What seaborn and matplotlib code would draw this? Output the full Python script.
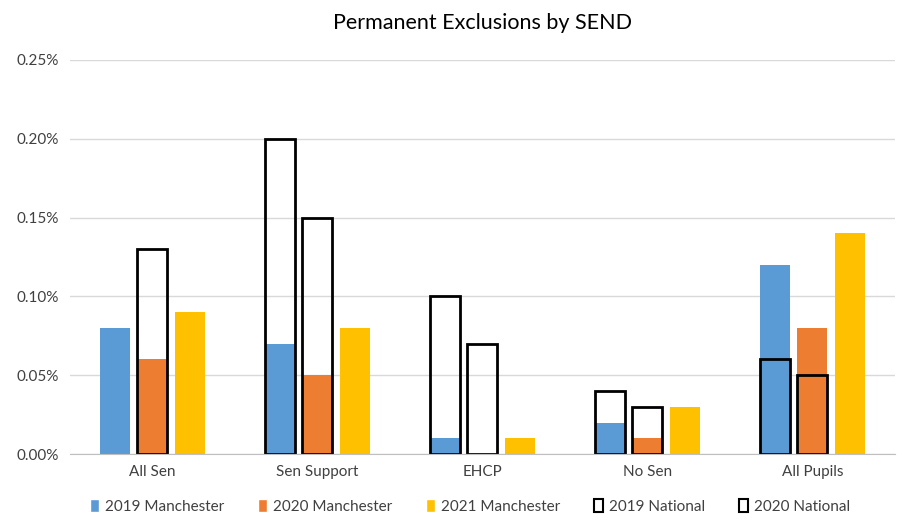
import pandas as pd
import numpy as np
import matplotlib.pyplot as plt
import seaborn as sns
from matplotlib.patches import Patch
from matplotlib.ticker import FuncFormatter

# Chart values (percent of pupils)
categories = ["All Sen", "Sen Support", "EHCP", "No Sen", "All Pupils"]
manc_2019 = [0.08, 0.07, 0.01, 0.02, 0.12]
manc_2020 = [0.06, 0.05, 0.00, 0.01, 0.08]
manc_2021 = [0.09, 0.08, 0.01, 0.03, 0.14]
nat_2019 = [np.nan, 0.20, 0.10, 0.04, 0.06]
nat_2020 = [0.13, 0.15, 0.07, 0.03, 0.05]

years = ["2019", "2020", "2021"]
colors = ["#5b9bd5", "#ed7d31", "#ffc000"]

manc = pd.DataFrame({
    "category": categories * 3,
    "year": np.repeat(years, len(categories)),
    "value": manc_2019 + manc_2020 + manc_2021,
})
nat = pd.DataFrame({
    "category": categories * 3,
    "year": np.repeat(years, len(categories)),
    "value": nat_2019 + nat_2020 + [np.nan] * len(categories),
})

sns.set_style("white")
plt.rcParams["font.family"] = ["Lato", "DejaVu Sans"]

fig = plt.figure(figsize=(9.04, 5.25), dpi=100)
ax = fig.add_axes([0.077, 0.135, 0.913, 0.751])

sns.barplot(data=manc, x="category", y="value", hue="year", hue_order=years,
            palette=colors, width=0.68, gap=0.2, saturation=1, ax=ax,
            legend=False, errorbar=None, linewidth=0)
sns.barplot(data=nat, x="category", y="value", hue="year", hue_order=years,
            palette=["black"] * 3, width=0.68, gap=0.2, fill=False,
            linewidth=2, ax=ax, legend=False, errorbar=None)

ax.set_ylim(0, 0.25)
ax.set_xlim(-0.5, 4.5)
ax.set_yticks([0, 0.05, 0.10, 0.15, 0.20, 0.25])
ax.yaxis.set_major_formatter(FuncFormatter(lambda v, p: f"{v:.2f}%"))
ax.grid(axis="y", color="#d9d9d9", linewidth=1)
ax.set_axisbelow(True)
for s in ["top", "right", "left"]:
    ax.spines[s].set_visible(False)
ax.spines["bottom"].set_color("#bfbfbf")
ax.tick_params(axis="both", length=0, labelsize=11, colors="#404040", pad=8)
ax.set_xlabel("")
ax.set_ylabel("")
ax.set_title("Permanent Exclusions by SEND", fontsize=15.5, color="black", pad=22)

handles = [
    Patch(facecolor=colors[0], label="2019 Manchester"),
    Patch(facecolor=colors[1], label="2020 Manchester"),
    Patch(facecolor=colors[2], label="2021 Manchester"),
    Patch(facecolor="white", edgecolor="black", linewidth=1.5, label="2019 National"),
    Patch(facecolor="white", edgecolor="black", linewidth=1.5, label="2020 National"),
]
fig.legend(handles=handles, loc="lower center", bbox_to_anchor=(0.52, -0.005),
           ncol=5, frameon=False, fontsize=11, handlelength=0.6,
           handleheight=0.9, handletextpad=0.4, columnspacing=2.2,
           labelcolor="#404040")

fig.savefig("out.png", dpi=100)
